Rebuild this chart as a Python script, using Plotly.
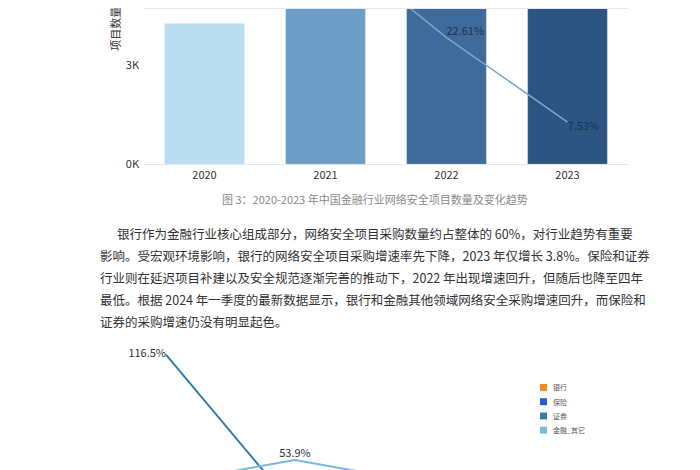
import plotly.graph_objects as go

years = ["2020", "2021", "2022", "2023"]
projects_k = [4.25, 5.6, 6.7, 7.2]
growth = [None, 40.0, 22.61, 7.53]
growth_labels = ["", "", "22.61%", "7.53%"]
bar_colors = ["#b9dcf0", "#6b9dc8", "#3e6b9c", "#2c5583"]

q_x = [0, 1, 2, 3]
sec_vals = [116.5, 25.0, 30.0, 28.0]
sec_labels = ["116.5%", "", "", ""]
other_vals = [40.0, 53.9, 40.0, 42.0]
other_labels = ["", "53.9%", "", ""]
ins_vals = [30.0, 35.0, 43.6, 30.0]
ins_label_idx = 2

legend_names = ["银行", "保险", "证券", "金融_其它"]
legend_colors = ["#f08c1e", "#1f5fd6", "#2e7fab", "#7ab8e0"]

para = [
    "银行作为金融行业核心组成部分，网络安全项目采购数量约占整体的 60%，对行业趋势有重要",
    "影响。受宏观环境影响，银行的网络安全项目采购增速率先下降，2023 年仅增长 3.8%。保险和证券",
    "行业则在延迟项目补建以及安全规范逐渐完善的推动下，2022 年出现增速回升，但随后也降至四年",
    "最低。根据 2024 年一季度的最新数据显示，银行和金融其他领域网络安全采购增速回升，而保险和",
    "证券的采购增速仍没有明显起色。",
]

W, H = 700, 470
px = lambda x: x / W
py = lambda y: 1 - y / H

fig = go.Figure()
fig.add_trace(go.Bar(x=years, y=projects_k, marker_color=bar_colors, width=0.66,
                     xaxis="x", yaxis="y", showlegend=False))
fig.add_trace(go.Scatter(x=years, y=growth, mode="lines+text", text=growth_labels,
                         textposition=["top right", "top right", "top right", "bottom right"],
                         textfont=dict(size=11, color="#1d3350"),
                         line=dict(color="#7fa6c8", width=1.5),
                         xaxis="x", yaxis="y2", showlegend=False, cliponaxis=False))

fig.add_trace(go.Scatter(x=q_x, y=sec_vals, mode="lines+text", text=sec_labels,
                         textposition="middle left", textfont=dict(size=11, color="#333"),
                         line=dict(color="#2e7fab", width=2), xaxis="x3", yaxis="y3",
                         showlegend=False))
fig.add_trace(go.Scatter(x=q_x, y=other_vals, mode="lines+text", text=other_labels,
                         textposition="top center", textfont=dict(size=11, color="#333"),
                         line=dict(color="#7ab8e0", width=2), xaxis="x3", yaxis="y3",
                         showlegend=False))
fig.add_trace(go.Scatter(x=q_x, y=ins_vals, mode="lines",
                         line=dict(color="#1f5fd6", width=2), xaxis="x3", yaxis="y3",
                         showlegend=False))

ann = []
ann.append(dict(text=f"{ins_vals[ins_label_idx]}%", x=q_x[ins_label_idx], y=ins_vals[ins_label_idx],
                xref="x3", yref="y3", yshift=14, xshift=-6, showarrow=False,
                font=dict(size=11, color="#333")))
ann.append(dict(text="项目数量", x=px(97), y=py(20), xref="paper", yref="paper", yanchor="middle",
                textangle=-90, showarrow=False, font=dict(size=11, color="#333")))
ann.append(dict(text="图 3：2020-2023 年中国金融行业网络安全项目数量及变化趋势",
                x=px(367), y=py(193), xref="paper", yref="paper", yanchor="middle", showarrow=False,
                font=dict(size=11, color="#8a8a8a")))
for i, line in enumerate(para):
    x0 = 107 if i == 0 else 90
    ann.append(dict(text=line, x=px(x0), y=py(228 + i * 22.6), xref="paper", yref="paper",
                    xanchor="left", yanchor="middle", showarrow=False,
                    font=dict(size=12.5, color="#333")))
shapes = []
for i, (n, c) in enumerate(zip(legend_names, legend_colors)):
    yy = 385 + i * 14.5
    shapes.append(dict(type="rect", xref="paper", yref="paper", x0=px(532), x1=px(539),
                       y0=py(yy + 3.5), y1=py(yy - 3.5), fillcolor=c, line_width=0))
    ann.append(dict(text=n, x=px(543), y=py(yy), xref="paper", yref="paper", xanchor="left",
                    yanchor="middle", showarrow=False, font=dict(size=7, color="#555")))

fig.update_layout(
    width=W, height=H, margin=dict(l=0, r=0, t=0, b=0), paper_bgcolor="white",
    plot_bgcolor="white", font=dict(family="Noto Sans CJK SC"), bargap=0.34,
    annotations=ann, shapes=shapes,
    xaxis=dict(domain=[px(136), px(620)], anchor="y", showline=True, linecolor="#e6e6e6",
               mirror=True, ticks="", tickfont=dict(size=11, color="#333")),
    yaxis=dict(domain=[py(158), 1], range=[0, 4.69], tickvals=[0, 3], ticktext=["0K", "3K"],
               showgrid=False, zeroline=False, showline=False, ticklabelstandoff=4,
               tickfont=dict(size=11, color="#333")),
    yaxis2=dict(overlaying="y", range=[0, 27.7], visible=False),
    xaxis3=dict(domain=[px(118), px(585)], anchor="y3", range=[-0.31, 3.31], visible=False),
    yaxis3=dict(domain=[0, py(337)], range=[47.3, 125], tickvals=[125], showticklabels=False,
                gridcolor="#ececec", zeroline=False),
)
fig.write_html("out.html")
